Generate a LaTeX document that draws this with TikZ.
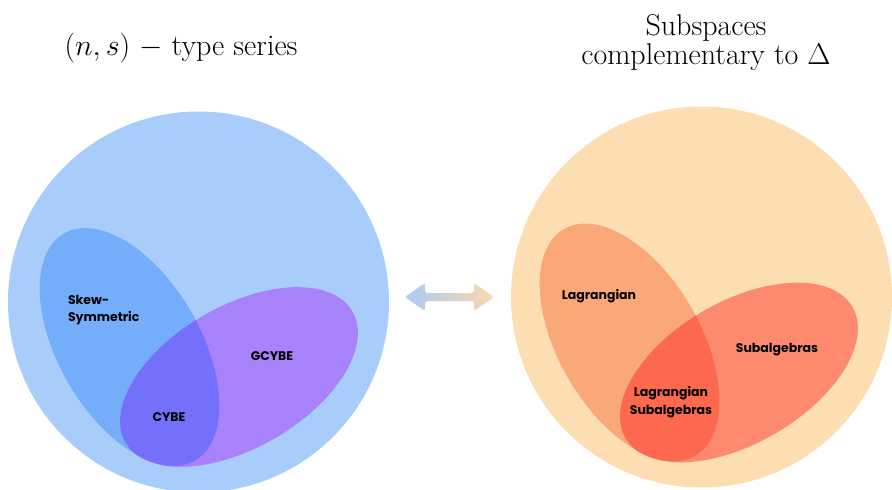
\RequirePackage{fix-cm}
\documentclass[tikz,border=0pt]{standalone}
\usepackage{fontspec}
\usetikzlibrary{calc}
\newfontfamily\vennfont{Poppins}

\definecolor{bluebg}{HTML}{A8CDFA}
\definecolor{blueskew}{HTML}{74AEFB}
\definecolor{purplegc}{HTML}{A882FA}
\definecolor{bluecybe}{HTML}{7470FB}
\definecolor{peachbg}{HTML}{FCDEB2}
\definecolor{orangelag}{HTML}{FBA878}
\definecolor{redsub}{HTML}{FD8A6E}
\definecolor{redlagsub}{HTML}{FD694E}
\definecolor{arrowblue}{HTML}{A9CBF5}
\definecolor{arroworange}{HTML}{FBD9AE}

\tikzset{
    vennlabel/.style={font=\vennfont\bfseries\fontsize{12.5}{17.5}\selectfont, align=center, text=black},
    titlelabel/.style={font=\fontsize{30}{29}\selectfont, align=center},
    setellipse/.style={x radius=131, y radius=71}
}

\begin{document}
\begin{tikzpicture}[x=1pt, y=-1pt]
        \useasboundingbox (0,0) rectangle (892,490);
        \clip (0,0) rectangle (892,490);
        % two sides, same ellipses shifted
        \foreach \dx/\dy/\bg/\one/\two/\both/\cx/\cy in
            {0/0/bluebg/blueskew/purplegc/bluecybe/198.5/302,
             500/-4.5/peachbg/orangelag/redsub/redlagsub/701.5/297} {
            \fill[\bg] (\cx,\cy) circle (190.5);
            \fill[\one] (129.5+\dx,347+\dy) ellipse [setellipse, rotate=-60];
            \fill[\two] (239+\dx,377+\dy) ellipse [setellipse, rotate=30];
            \begin{scope}
                \clip (239+\dx,377+\dy) ellipse [setellipse, rotate=30];
                \fill[\both] (129.5+\dx,347+\dy) ellipse [setellipse, rotate=-60];
            \end{scope}
        }
        \node[titlelabel, anchor=base] (seriestitle) at (181,55) {$(n,s)$ $-$ type series};
        \node[titlelabel] (subtitle) at (706,43) {Subspaces\\complementary to $\Delta$};
        \node[vennlabel, align=left, anchor=west] (skew) at (64.5,310) {Skew-\\Symmetric};
        \node[vennlabel] (gcybe) at (272,356) {GCYBE};
        \node[vennlabel] (cybe) at (169,417) {CYBE};
        \node[vennlabel] (lag) at (599,296) {Lagrangian};
        \node[vennlabel] (subalg) at (777,350) {Subalgebras};
        \node[vennlabel] (lagsub) at (671,402) {Lagrangian\\Subalgebras};
        \coordinate (la) at (405,297);
        \coordinate (ra) at (494,297);
        \shade[left color=arrowblue, right color=arroworange, rounded corners=2.5pt]
            (la) -- ($(la)+(20,-14)$) -- ($(la)+(20,-4)$) -- ($(ra)+(-20,-4)$)
            -- ($(ra)+(-20,-14)$) -- (ra) -- ($(ra)+(-20,14)$) -- ($(ra)+(-20,4)$)
            -- ($(la)+(20,4)$) -- ($(la)+(20,14)$) -- cycle;
\end{tikzpicture}
\end{document}
